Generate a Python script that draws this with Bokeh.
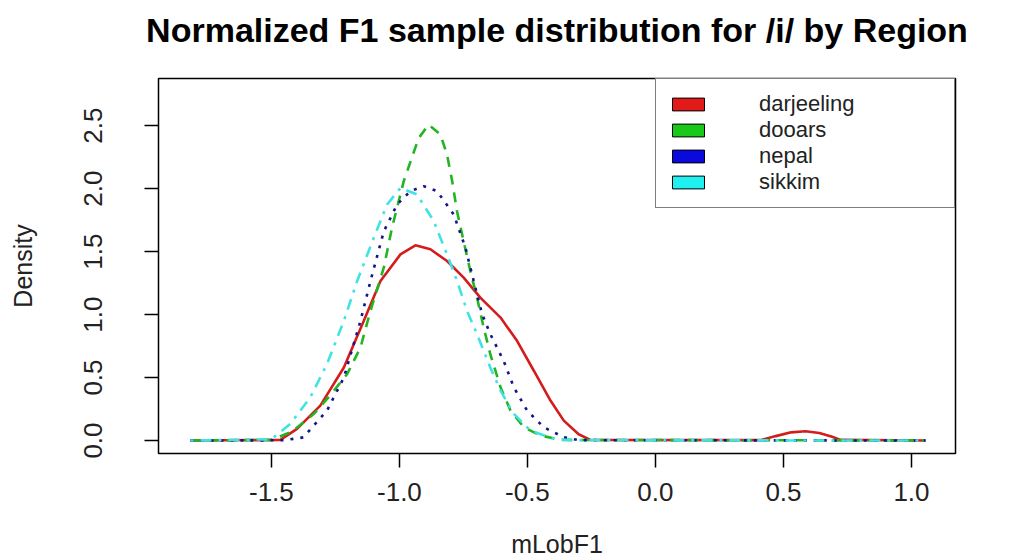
import math
from bokeh.plotting import figure
from bokeh.models import Range1d, FixedTicker, Legend, LegendItem, PrintfTickFormatter, Title
from bokeh.embed import file_html
from bokeh.resources import INLINE

# ---- data ----
title_text = "Normalized F1 sample distribution for /i/ by Region"
regions = ["darjeeling", "dooars", "nepal", "sikkim"]

darjeeling_x = [-1.816, -1.465, -1.40, -1.309, -1.217, -1.139, -1.074, -0.996, -0.9375, -0.879, -0.814,
                -0.749, -0.684, -0.605, -0.54, -0.475, -0.41, -0.358, -0.30, -0.254, 0.41, 0.47, 0.53,
                0.586, 0.64, 0.69, 0.723, 1.055]
darjeeling_y = [0, 0.005, 0.093, 0.277, 0.58, 0.95, 1.267, 1.478, 1.55, 1.518, 1.425, 1.293, 1.135, 0.976,
                0.79, 0.554, 0.317, 0.158, 0.05, 0.005, 0.003, 0.035, 0.065, 0.074, 0.06, 0.03, 0.005, 0]

dooars_x = [-1.816, -1.50, -1.42, -1.335, -1.27, -1.204, -1.152, -1.113, -1.061, -1.029, -0.983, -0.925,
            -0.886, -0.84, -0.814, -0.794, -0.775, -0.749, -0.723, -0.697, -0.671, -0.645, -0.605, -0.566,
            -0.514, -0.449, -0.371, 1.055]
dooars_y = [0, 0.005, 0.07, 0.21, 0.36, 0.528, 0.739, 1.03, 1.372, 1.689, 2.059, 2.40, 2.507, 2.43, 2.27,
            2.06, 1.82, 1.58, 1.346, 1.135, 0.897, 0.686, 0.422, 0.238, 0.105, 0.04, 0.005, 0]

nepal_x = [-1.816, -1.45, -1.375, -1.283, -1.217, -1.152, -1.113, -1.061, -1.009, -0.957, -0.905, -0.853,
           -0.788, -0.742, -0.71, -0.677, -0.645, -0.593, -0.553, -0.501, -0.436, -0.358, -0.30, 1.055]
nepal_y = [0, 0.002, 0.025, 0.237, 0.5, 0.95, 1.267, 1.66, 1.874, 1.98, 2.019, 1.98, 1.795, 1.53, 1.267,
           1.003, 0.845, 0.633, 0.422, 0.237, 0.105, 0.026, 0.003, 0]

sikkim_x = [-1.816, -1.50, -1.426, -1.348, -1.283, -1.217, -1.165, -1.10, -1.048, -0.996, -0.931, -0.866,
            -0.814, -0.775, -0.736, -0.697, -0.645, -0.605, -0.553, -0.488, -0.397, -0.33, 1.055]
sikkim_y = [0, 0.01, 0.132, 0.343, 0.607, 0.95, 1.267, 1.61, 1.874, 2.006, 1.953, 1.742, 1.478, 1.267,
            1.03, 0.845, 0.58, 0.396, 0.211, 0.079, 0.013, 0.002, 0]

x_ticks = [-1.5, -1.0, -0.5, 0.0, 0.5, 1.0]
y_ticks = [0.0, 0.5, 1.0, 1.5, 2.0, 2.5]

series_x = [darjeeling_x, dooars_x, nepal_x, sikkim_x]
series_y = [darjeeling_y, dooars_y, nepal_y, sikkim_y]

# ---- styles ----
line_colors = ["#D41C1C", "#22B422", "#14148C", "#3FE3E3"]
swatch_colors = ["#E31A1A", "#19C819", "#0A0ADC", "#20F0F0"]
dashes = ["solid", "10 8", "3 7", "3 7 11 7"]
FONT = "Liberation Sans"

p = figure(width=1025, height=560, output_backend="svg", toolbar_location=None,
           x_range=Range1d(-1.941, 1.172), y_range=Range1d(-0.103, 2.874),
           min_border_left=158, min_border_right=70, min_border_top=77, min_border_bottom=107,
           background_fill_color="white", border_fill_color="white")

p.title.text = title_text
p.title.align = "center"
p.title.text_font = FONT
p.title.text_font_style = "bold"
p.title.text_font_size = "34px"
p.title.text_color = "black"
p.title.vertical_align = "top"
p.title.standoff = 20

# thin spacer between the title and the plot box (pushes the title towards the top edge)
spacer = Title(text=" ", text_font_size="1px", standoff=15)
p.add_layout(spacer, "above")

p.xgrid.visible = False
p.ygrid.visible = False
p.outline_line_color = "black"
p.outline_line_width = 1.5

for ax in (p.xaxis[0], p.yaxis[0]):
    ax.axis_line_color = None
    ax.major_tick_line_color = "black"
    ax.major_tick_line_width = 1.5
    ax.major_tick_out = 14
    ax.major_tick_in = 0
    ax.minor_tick_line_color = None
    ax.major_label_text_font = FONT
    ax.major_label_text_font_size = "26px"
    ax.major_label_text_color = "#222222"
    ax.axis_label_text_font = FONT
    ax.axis_label_text_font_size = "25px"
    ax.axis_label_text_font_style = "normal"
    ax.axis_label_text_color = "#222222"
    ax.formatter = PrintfTickFormatter(format="%.1f")

p.xaxis[0].ticker = FixedTicker(ticks=x_ticks)
p.yaxis[0].ticker = FixedTicker(ticks=y_ticks)
p.xaxis[0].axis_label = "mLobF1"
p.yaxis[0].axis_label = "Density"
p.xaxis[0].major_label_standoff = 15
p.xaxis[0].axis_label_standoff = 26
p.yaxis[0].major_label_orientation = "vertical"
p.yaxis[0].major_label_standoff = 42
p.yaxis[0].axis_label_standoff = 45

for xs, ys, c, d in zip(series_x, series_y, line_colors, dashes):
    p.line(xs, ys, line_color=c, line_width=2.6, line_dash=d)

# legend swatches: placeholder renderers with no visible geometry
items = []
nan = [math.nan]
for name, c in zip(regions, swatch_colors):
    r = p.quad(left=nan, right=nan, top=nan, bottom=nan, fill_color=c, line_color="black", line_width=1)
    items.append(LegendItem(label=name, renderers=[r]))

legend = Legend(items=items, location="top_right", margin=0, padding=12, spacing=0,
                border_line_color="black", border_line_width=1.5, background_fill_alpha=1.0,
                label_text_font=FONT, label_text_font_size="22px", label_text_color="#222222",
                glyph_width=40, glyph_height=16, label_standoff=51, label_height=22, label_width=183)
p.add_layout(legend)

open("out.html", "w").write(file_html(p, INLINE))
